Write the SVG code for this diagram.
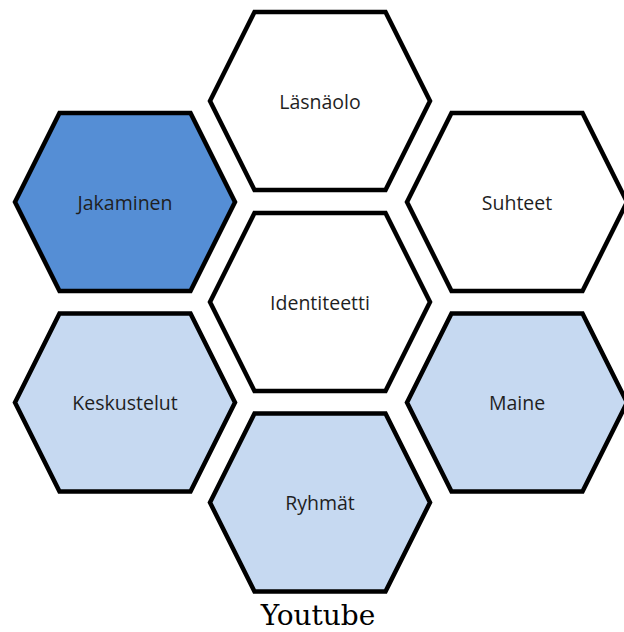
<svg xmlns="http://www.w3.org/2000/svg" xmlns:xlink="http://www.w3.org/1999/xlink" width="624" height="632" viewBox="0 0 624 632">
<style>
.hex{stroke:#000;stroke-width:4.5;stroke-linejoin:miter}
.white{fill:#ffffff}
.dark{fill:#558ED5}
.light{fill:#C6D9F1}
.lbl{font-family:"Open Sans","Liberation Sans",sans-serif;font-size:19.5px;fill:#1f1f1f;text-anchor:middle}
.cap{font-family:"DejaVu Serif","Liberation Serif",serif;font-size:28px;fill:#000;text-anchor:middle}
</style>
<defs>
<polygon id="hx" points="-110,0 -65.5,-89 65.5,-89 110,0 65.5,89 -65.5,89"/>
</defs>
<rect width="624" height="632" fill="#ffffff"/>
<g id="connectors"/>
<g id="lasnaolo" transform="translate(320,101)">
<use xlink:href="#hx" href="#hx" class="hex white"/>
<text class="lbl" x="0" y="7.5">Läsnäolo</text>
</g>
<g id="jakaminen" transform="translate(125,202)">
<use xlink:href="#hx" href="#hx" class="hex dark"/>
<text class="lbl" x="0" y="7.5">Jakaminen</text>
</g>
<g id="suhteet" transform="translate(517,202)">
<use xlink:href="#hx" href="#hx" class="hex white"/>
<text class="lbl" x="0" y="7.5">Suhteet</text>
</g>
<g id="identiteetti" transform="translate(320,302)">
<use xlink:href="#hx" href="#hx" class="hex white"/>
<text class="lbl" x="0" y="7.5">Identiteetti</text>
</g>
<g id="keskustelut" transform="translate(125,402.5)">
<use xlink:href="#hx" href="#hx" class="hex light"/>
<text class="lbl" x="0" y="7.5">Keskustelut</text>
</g>
<g id="maine" transform="translate(517,402.5)">
<use xlink:href="#hx" href="#hx" class="hex light"/>
<text class="lbl" x="0" y="7.5">Maine</text>
</g>
<g id="ryhmat" transform="translate(320,502.5)">
<use xlink:href="#hx" href="#hx" class="hex light"/>
<text class="lbl" x="0" y="7.5">Ryhmät</text>
</g>
<g id="caption">
<text class="cap" x="318" y="625">Youtube</text>
</g>
</svg>
